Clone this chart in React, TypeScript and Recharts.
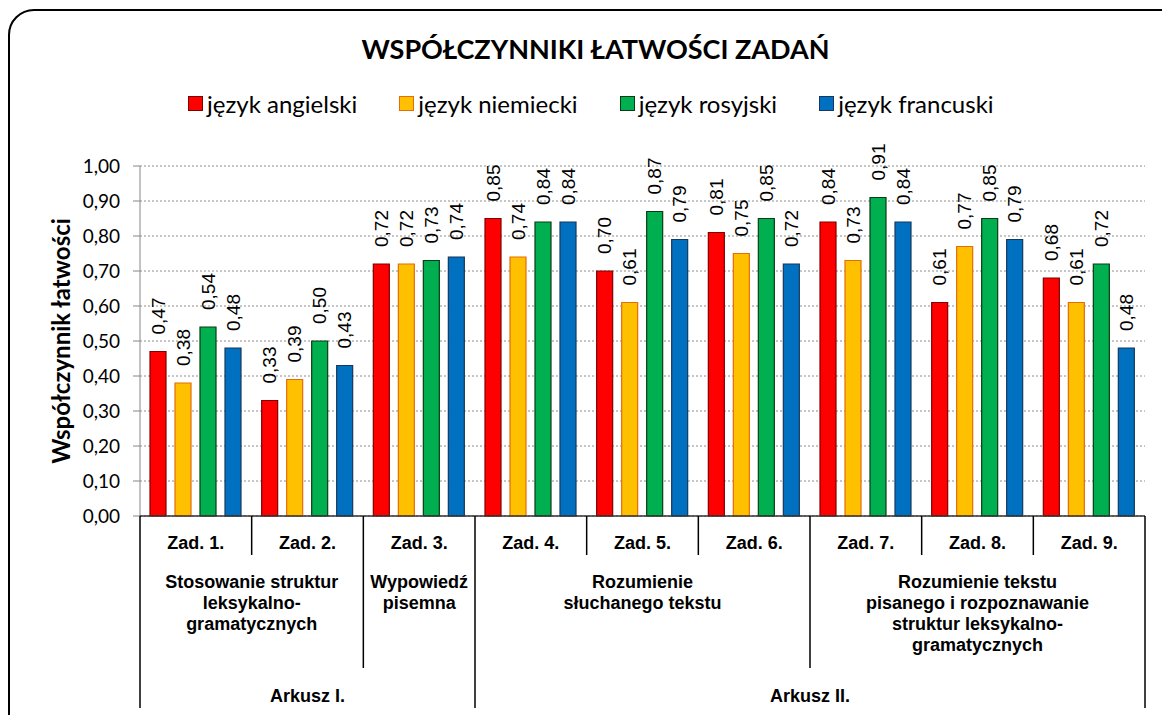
import { BarChart, Bar, XAxis, YAxis, CartesianGrid, LabelList } from "recharts";

const categories = ["Zad. 1.", "Zad. 2.", "Zad. 3.", "Zad. 4.", "Zad. 5.", "Zad. 6.", "Zad. 7.", "Zad. 8.", "Zad. 9."];
const angielski = [0.47, 0.33, 0.72, 0.85, 0.7, 0.81, 0.84, 0.61, 0.68];
const niemiecki = [0.38, 0.39, 0.72, 0.74, 0.61, 0.75, 0.73, 0.77, 0.61];
const rosyjski = [0.54, 0.5, 0.73, 0.84, 0.87, 0.85, 0.91, 0.85, 0.72];
const francuski = [0.48, 0.43, 0.74, 0.84, 0.79, 0.72, 0.84, 0.79, 0.48];
const yTicks = [0, 0.1, 0.2, 0.3, 0.4, 0.5, 0.6, 0.7, 0.8, 0.9, 1];

// second and third row of the category axis
const skillLabels = [
  "Stosowanie struktur\nleksykalno-\ngramatycznych",
  "Wypowiedź\npisemna",
  "Rozumienie\nsłuchanego tekstu",
  "Rozumienie tekstu\npisanego i rozpoznawanie\nstruktur leksykalno-\ngramatycznych",
];
const skillSpans = [2, 1, 3, 3];
const sheetLabels = ["Arkusz I.", "Arkusz II."];
const sheetSpans = [3, 6];

const series = [
  { key: "angielski", name: "język angielski", fill: "#FF0000", stroke: "#7F0000" },
  { key: "niemiecki", name: "język niemiecki", fill: "#FFC000", stroke: "#E46C0A" },
  { key: "rosyjski", name: "język rosyjski", fill: "#00B050", stroke: "#0B3B12" },
  { key: "francuski", name: "język francuski", fill: "#0070C0", stroke: "#17375E" },
];

const data = categories.map((name, i) => ({
  name,
  angielski: angielski[i],
  niemiecki: niemiecki[i],
  rosyjski: rosyjski[i],
  francuski: francuski[i],
}));

const fmt = (v: number) => v.toFixed(2).replace(".", ",");

const startsOf = (spans: number[]) => {
  const out: number[] = [];
  let acc = 0;
  spans.forEach((s) => {
    out.push(acc);
    acc += s;
  });
  return out;
};
const skillStarts = startsOf(skillSpans);
const sheetStarts = startsOf(sheetSpans);

const axisFont = "'Liberation Sans Narrow', 'Arial Narrow', 'Liberation Sans', Arial, sans-serif";
const uiFont = "Lato, 'Open Sans', sans-serif";

const BarValue = (props: any) => {
  const { x, y, width, value } = props;
  const cx = Number(x) + Number(width) / 2;
  const ty = Number(y) - 17;
  return (
    <text
      x={cx}
      y={ty}
      transform={`rotate(-90 ${cx} ${ty})`}
      textAnchor="start"
      dominantBaseline="central"
      fontFamily="'Liberation Sans Narrow', 'Liberation Sans', Arial, sans-serif"
      fontSize={19}
      fill="#000"
    >
      {fmt(Number(value))}
    </text>
  );
};

const CategoryTick = (props: any) => {
  const { x, y, payload, width, visibleTicksCount } = props;
  const i = payload.index ?? props.index;
  const band = payload.offset > 0 ? payload.offset * 2 : width / visibleTicksCount;
  const left = x - band / 2;
  const right = x + band / 2;
  const lineEnd = (idx: number) =>
    sheetStarts.includes(idx) || idx === categories.length
      ? y + 192
      : skillStarts.includes(idx)
      ? y + 152
      : y + 39;

  const k = skillStarts.indexOf(i);
  const s = sheetStarts.indexOf(i);

  return (
    <g>
      <line x1={left} x2={left} y1={y} y2={lineEnd(i)} stroke="#000" strokeWidth={1.5} />
      {i === categories.length - 1 && (
        <line x1={right} x2={right} y1={y} y2={lineEnd(i + 1)} stroke="#000" strokeWidth={1.5} />
      )}
      <text x={x} y={y + 33} textAnchor="middle" fontFamily={axisFont} fontWeight="bold" fontSize={18} fill="#000">
        {payload.value}
      </text>
      {k >= 0 && (
        <text
          x={left + (skillSpans[k] * band) / 2}
          y={y + 72}
          textAnchor="middle"
          fontFamily={axisFont}
          fontWeight="bold"
          fontSize={18}
          fill="#000"
        >
          {skillLabels[k].split("\n").map((line, j) => (
            <tspan key={j} x={left + (skillSpans[k] * band) / 2} dy={j === 0 ? 0 : 21}>
              {line}
            </tspan>
          ))}
        </text>
      )}
      {s >= 0 && (
        <text
          x={left + (sheetSpans[s] * band) / 2}
          y={y + 186}
          textAnchor="middle"
          fontFamily={axisFont}
          fontWeight="bold"
          fontSize={18}
          fill="#000"
        >
          {sheetLabels[s]}
        </text>
      )}
    </g>
  );
};

export default function App() {
  return (
    <div style={{ position: "absolute", left: 0, top: 0, width: 1162, height: 715, overflow: "hidden", background: "#fff" }}>
      <div
        style={{
          position: "absolute",
          left: 8,
          top: 9,
          width: 1190,
          height: 740,
          border: "2px solid #000",
          borderRadius: 26,
        }}
      />
      <div
        style={{
          position: "absolute",
          left: 0,
          top: 32,
          width: 1191,
          textAlign: "center",
          fontFamily: uiFont,
          fontWeight: "bold",
          fontSize: 27,
          color: "#000",
        }}
      >
        WSPÓŁCZYNNIKI ŁATWOŚCI ZADAŃ
      </div>
      <div
        style={{
          position: "absolute",
          left: 188,
          top: 89,
          display: "flex",
          alignItems: "center",
          fontFamily: uiFont,
          fontSize: 24,
          color: "#000",
        }}
      >
        {series.map((s) => (
          <div key={s.key} style={{ display: "flex", alignItems: "center", marginRight: 42 }}>
            <span
              style={{
                display: "inline-block",
                width: 15,
                height: 15,
                boxSizing: "border-box",
                background: s.fill,
                border: `1.5px solid ${s.stroke}`,
                marginRight: 4,
              }}
            />
            <span>{s.name}</span>
          </div>
        ))}
      </div>
      <div
        style={{
          position: "absolute",
          left: 60,
          top: 341,
          transform: "translate(-50%, -50%) rotate(-90deg)",
          whiteSpace: "nowrap",
          fontFamily: uiFont,
          fontWeight: "bold",
          fontSize: 24,
          color: "#000",
        }}
      >
        Współczynnik łatwości
      </div>
      <div style={{ position: "absolute", left: 0, top: 0 }}>
        <BarChart
          width={1162}
          height={715}
          data={data}
          margin={{ top: 166, right: 17, left: 80, bottom: 9 }}
          barSize={16}
          barGap={9}
        >
          <CartesianGrid vertical={false} stroke="#8c8c8c" strokeDasharray="2 2" />
          <YAxis
            width={60}
            domain={[0, 1]}
            ticks={yTicks}
            interval={0}
            tickFormatter={fmt}
            tickSize={7}
            tickMargin={13}
            axisLine={{ stroke: "#868686" }}
            tickLine={{ stroke: "#868686" }}
            tick={{ fill: "#000", fontSize: 19, fontFamily: uiFont }}
          />
          <XAxis
            dataKey="name"
            interval={0}
            height={190}
            tickSize={0}
            tickMargin={0}
            tickLine={false}
            axisLine={{ stroke: "#333", strokeWidth: 1.5 }}
            tick={<CategoryTick />}
          />
          {series.map((s) => (
            <Bar
              key={s.key}
              dataKey={s.key}
              name={s.name}
              fill={s.fill}
              stroke={s.stroke}
              strokeWidth={1.2}
              isAnimationActive={false}
            >
              <LabelList dataKey={s.key} content={<BarValue />} />
            </Bar>
          ))}
        </BarChart>
      </div>
    </div>
  );
}
